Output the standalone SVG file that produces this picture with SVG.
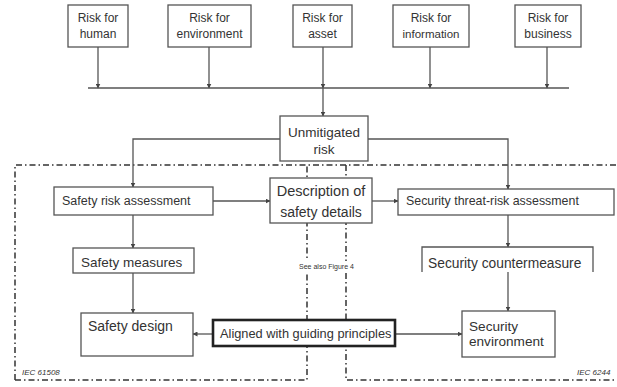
<svg xmlns="http://www.w3.org/2000/svg" width="617" height="387" viewBox="0 0 617 387">
  <style>
    .box { fill: #fff; stroke: #555; stroke-width: 1.3; }
    .open { fill: none; stroke: #555; stroke-width: 1.3; }
    .thick { fill: #fff; stroke: #222; stroke-width: 2.6; }
    .lbl { font-family: "Liberation Sans", Arial, sans-serif; fill: #333; }
    .ln { fill: none; stroke: #555; stroke-width: 1.3; }
    .frame { fill: none; stroke: #333; stroke-width: 1.5; stroke-dasharray: 6 3 1.5 3; }
  </style>
  <defs>
    <marker id="ah" viewBox="0 0 10 10" refX="9" refY="5" markerWidth="5" markerHeight="5" orient="auto" markerUnits="userSpaceOnUse">
      <path d="M0,0 L10,5 L0,10 z" fill="#444"/>
    </marker>
  </defs>

  <rect width="617" height="387" fill="#fff"/>

  <!-- dash-dot scope frames -->
  <g id="frames">
    <path class="frame" d="M15,380 V165 H617"/>
    <path class="frame" d="M15,380 H307 V165"/>
    <path class="frame" d="M346,165 V380 H617"/>
  </g>

  <!-- connectors -->
  <g id="connectors">
    <line class="ln" x1="98" y1="47" x2="98" y2="88" marker-end="url(#ah)"/>
    <line class="ln" x1="209" y1="47" x2="209" y2="88" marker-end="url(#ah)"/>
    <line class="ln" x1="323" y1="47" x2="323" y2="88" marker-end="url(#ah)"/>
    <line class="ln" x1="430" y1="47" x2="430" y2="88" marker-end="url(#ah)"/>
    <line class="ln" x1="547" y1="47" x2="547" y2="88" marker-end="url(#ah)"/>
    <line class="ln" x1="88" y1="88" x2="569" y2="88"/>
    <line class="ln" x1="323" y1="88" x2="323" y2="116" marker-end="url(#ah)"/>
    <polyline class="ln" points="280,139 133,139 133,187" marker-end="url(#ah)"/>
    <polyline class="ln" points="368,139 508,139 508,189" marker-end="url(#ah)"/>
    <line class="ln" x1="213" y1="201" x2="270" y2="201" marker-end="url(#ah)"/>
    <line class="ln" x1="372" y1="201" x2="398" y2="201" marker-end="url(#ah)"/>
    <line class="ln" x1="133" y1="215" x2="133" y2="248" marker-end="url(#ah)"/>
    <line class="ln" x1="133" y1="273" x2="133" y2="313" marker-end="url(#ah)"/>
    <line class="ln" x1="508" y1="215" x2="508" y2="247" marker-end="url(#ah)"/>
    <line class="ln" x1="508" y1="272" x2="508" y2="311" marker-end="url(#ah)"/>
    <line class="ln" x1="213" y1="334" x2="193" y2="334" marker-end="url(#ah)"/>
    <line class="ln" x1="395" y1="334" x2="462" y2="334" marker-end="url(#ah)"/>
  </g>

  <g id="risk-human">
    <rect class="box" x="68" y="5" width="60" height="42"/>
    <text class="lbl" font-size="12" text-anchor="middle" x="98" y="22">Risk for</text>
    <text class="lbl" font-size="12" text-anchor="middle" x="98" y="38">human</text>
  </g>
  <g id="risk-environment">
    <rect class="box" x="168" y="5" width="83" height="42"/>
    <text class="lbl" font-size="12" text-anchor="middle" x="209.5" y="22">Risk for</text>
    <text class="lbl" font-size="12" text-anchor="middle" x="209.5" y="38">environment</text>
  </g>
  <g id="risk-asset">
    <rect class="box" x="293" y="5" width="59" height="42"/>
    <text class="lbl" font-size="12" text-anchor="middle" x="322.5" y="22">Risk for</text>
    <text class="lbl" font-size="12" text-anchor="middle" x="322.5" y="38">asset</text>
  </g>
  <g id="risk-information">
    <rect class="box" x="393" y="5" width="76" height="42"/>
    <text class="lbl" font-size="12" text-anchor="middle" x="431" y="22">Risk for</text>
    <text class="lbl" font-size="11.5" text-anchor="middle" x="431" y="38">information</text>
  </g>
  <g id="risk-business">
    <rect class="box" x="515" y="5" width="66" height="42"/>
    <text class="lbl" font-size="12" text-anchor="middle" x="548" y="22">Risk for</text>
    <text class="lbl" font-size="12" text-anchor="middle" x="548" y="38">business</text>
  </g>

  <g id="unmitigated-risk">
    <rect class="box" x="280" y="116" width="88" height="45"/>
    <text class="lbl" font-size="13.5" text-anchor="middle" x="324" y="137">Unmitigated</text>
    <text class="lbl" font-size="13.5" text-anchor="middle" x="324" y="154">risk</text>
  </g>

  <g id="safety-risk-assessment">
    <rect class="box" x="54" y="187" width="159" height="28"/>
    <text class="lbl" font-size="12.5" x="62" y="205">Safety risk assessment</text>
  </g>

  <g id="description-safety-details">
    <rect class="box" x="270" y="178" width="102" height="45"/>
    <text class="lbl" font-size="14.5" text-anchor="middle" x="321" y="196">Description of</text>
    <text class="lbl" font-size="14" text-anchor="middle" x="321" y="217">safety details</text>
  </g>

  <g id="security-threat-risk-assessment">
    <rect class="box" x="398" y="189" width="216" height="26"/>
    <text class="lbl" font-size="12.4" x="406" y="205">Security threat-risk assessment</text>
  </g>

  <g id="safety-measures">
    <rect class="box" x="73" y="248" width="121" height="25"/>
    <text class="lbl" font-size="13.5" x="81" y="267">Safety measures</text>
  </g>

  <g id="security-countermeasure">
    <path class="open" d="M422,272 V247 H593 V272"/>
    <text class="lbl" font-size="13.8" x="428" y="268">Security countermeasure</text>
  </g>

  <g id="see-also">
    <rect x="288" y="261" width="77" height="11" fill="#fff"/>
    <text class="lbl" font-size="7" text-anchor="middle" x="326.5" y="269">See also Figure 4</text>
  </g>

  <g id="safety-design">
    <rect class="box" x="81" y="313" width="112" height="43"/>
    <text class="lbl" font-size="14" x="88" y="331">Safety design</text>
  </g>

  <g id="aligned-guiding-principles">
    <rect class="thick" x="213" y="320" width="182" height="26"/>
    <text class="lbl" font-size="12.8" x="220" y="338">Aligned with guiding principles</text>
  </g>

  <g id="security-environment">
    <rect class="box" x="462" y="311" width="93" height="46"/>
    <text class="lbl" font-size="13.6" x="469" y="331">Security</text>
    <text class="lbl" font-size="13.6" x="469" y="346">environment</text>
  </g>

  <g id="tags">
    <text class="lbl" font-size="8" font-style="italic" x="22" y="375">IEC 61508</text>
    <text class="lbl" font-size="8" font-style="italic" x="577" y="375">IEC 6244</text>
  </g>
</svg>
